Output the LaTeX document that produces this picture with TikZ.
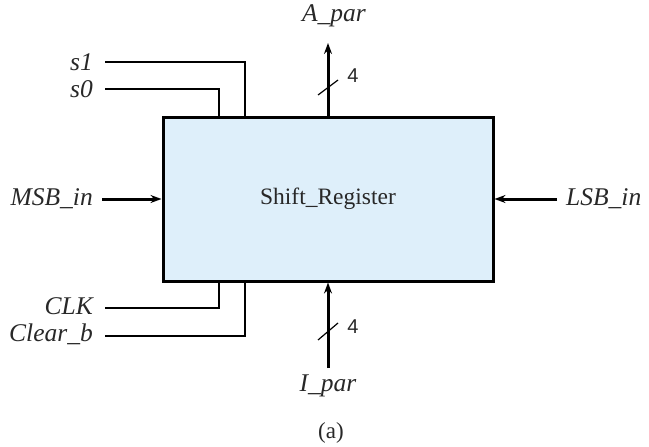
\documentclass[tikz,border=0pt]{standalone}
\usepackage{fontspec}
\setmainfont{Liberation Serif}
\newfontfamily\digitfont{Liberation Sans}
\usetikzlibrary{arrows.meta}
\definecolor{boxfill}{RGB}{222,239,250}
\definecolor{inkc}{RGB}{40,40,40}
\tikzset{
  regbox/.style={draw=black, line width=3pt, fill=boxfill, minimum width=330pt, minimum height=164pt, inner sep=0pt, font=\fontsize{23.5}{26}\selectfont, text=inkc},
  lbl/.style={font=\fontsize{25.5}{28}\selectfont\itshape, text=inkc, inner sep=0pt},
  buswire/.style={line width=3pt, -{Stealth[length=11pt,width=8pt]}},
  ctlwire/.style={line width=1.5pt, line cap=rect},
  slashln/.style={line width=1.2pt},
  busnum/.style={font=\digitfont\fontsize{20}{22}\selectfont, text=inkc, inner sep=0pt},
}
\begin{document}
\begin{tikzpicture}[x=1pt,y=-1pt]
\useasboundingbox (0,0) rectangle (649,447);
\node[regbox] (reg) at (328,199) {Shift\_Register};
% top
\node[lbl] (apar) at (334,16) {A\_par};
\coordinate (apartip) at (328,43);
\draw[buswire] (reg.north -| apartip) -- (apartip);
\coordinate (sl1a) at (318,95); \coordinate (sl1b) at (338,80);
\draw[slashln] (sl1a) -- (sl1b);
\node[busnum] (n1) at (353,76) {4};
% s1, s0
\node[lbl, anchor=east] (s1) at (93,62) {s1};
\node[lbl, anchor=east] (s0) at (93,89) {s0};
\coordinate (s1in) at (245,116);
\coordinate (s0in) at (219,116);
\draw[ctlwire] ([xshift=13pt]s1.east) -| (s1in);
\draw[ctlwire] ([xshift=13pt]s0.east) -| (s0in);
% clk, clear
\node[lbl, anchor=east] (clk) at (93,306) {CLK};
\node[lbl, anchor=east] (clr) at (93,334) {Clear\_b};
\coordinate (clkin) at (219,282);
\coordinate (clrin) at (245,282);
\draw[ctlwire] ([xshift=13pt]clk.east |- 0,308) -| (clkin);
\draw[ctlwire] ([xshift=13pt]clr.east |- 0,336) -| (clrin);
% MSB / LSB
\node[lbl, anchor=east] (msb) at (93,199) {MSB\_in};
\draw[buswire] ([xshift=9pt]msb.east) -- (reg.west |- msb.east);
\node[lbl, anchor=west] (lsb) at (566,199) {LSB\_in};
\draw[buswire] ([xshift=-9pt]lsb.west) -- (reg.east |- lsb.west);
% bottom
\node[lbl] (ipar) at (328,386) {I\_par};
\coordinate (ipartail) at (328,368);
\draw[buswire] (ipartail) -- (reg.south -| ipartail);
\coordinate (sl2a) at (318,340); \coordinate (sl2b) at (338,323);
\draw[slashln] (sl2a) -- (sl2b);
\node[busnum] (n2) at (353,327) {4};
\node[font=\fontsize{23}{26}\selectfont, text=inkc, inner sep=0pt] (cap) at (331,433) {(a)};
\end{tikzpicture}
\end{document}
